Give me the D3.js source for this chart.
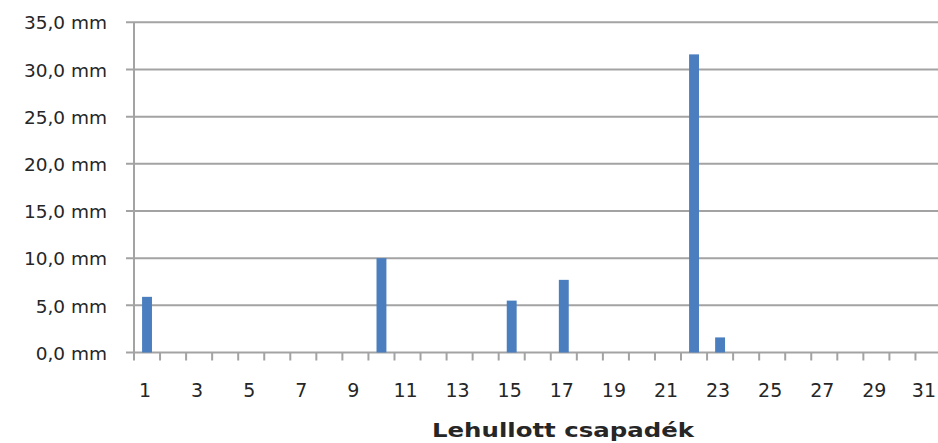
<!DOCTYPE html>
<html>
<head>
<meta charset="utf-8">
<script src="https://cdn.jsdelivr.net/npm/d3@7/dist/d3.min.js"></script>
<style>
  html, body { margin: 0; padding: 0; background: #fff; }
  svg { display: block; }
  text { font-family: "DejaVu Sans", sans-serif; fill: #262626; }
</style>
</head>
<body>
<svg id="chart" width="938" height="443"></svg>
<script>
// Daily precipitation for the month (mm)
const days = d3.range(1, 32);
const rainfall = [5.9, 0, 0, 0, 0, 0, 0, 0, 0, 10.0,
                  0, 0, 0, 0, 5.5, 0, 7.7, 0, 0, 0,
                  0, 31.6, 1.6, 0, 0, 0, 0, 0, 0, 0, 0];
const yTicks = [0, 5, 10, 15, 20, 25, 30, 35];
const xTickLabels = days.filter(d => d % 2 === 1);
const axisTitle = "Lehullott csapadék";

const width = 938;
const svg = d3.select("#chart");
const plotLeft = 134, plotRight = 941.5, plotTop = 22.3, plotBottom = 352.5;

const x = d3.scaleBand()
  .domain(days)
  .range([plotLeft, plotRight])
  .paddingInner(0.62)
  .paddingOuter(0.31);
const y = d3.scaleLinear().domain([0, 35]).range([plotBottom, plotTop]);

const locale = d3.formatLocale({ decimal: ",", thousands: " ", grouping: [3], currency: ["", ""] });
const fmt = v => locale.format(".1f")(v) + " mm";

const gridColor = "#a3a3a3";

// horizontal gridlines
svg.append("g")
  .selectAll("line")
  .data(yTicks)
  .join("line")
  .attr("x1", plotLeft - 8)
  .attr("x2", width)
  .attr("y1", d => y(d))
  .attr("y2", d => y(d))
  .attr("stroke", gridColor)
  .attr("stroke-width", 2);

// bars
svg.append("g")
  .selectAll("rect")
  .data(days.map((d, i) => ({ day: d, value: rainfall[i] })).filter(d => d.value > 0))
  .join("rect")
  .attr("x", d => x(d.day))
  .attr("width", x.bandwidth())
  .attr("y", d => y(d.value))
  .attr("height", d => y(0) - y(d.value))
  .attr("fill", "#4a7ebf");

// y axis labels
const yAxis = svg.append("g")
  .attr("transform", `translate(${plotLeft},0)`)
  .call(d3.axisLeft(y).tickValues(yTicks).tickSize(0).tickPadding(27).tickFormat(fmt));
yAxis.select(".domain").remove();
yAxis.selectAll("text")
  .attr("font-size", 18.5)
  .attr("font-family", "DejaVu Sans, sans-serif")
  .attr("fill", "#262626")
  .attr("dy", "0.36em");

svg.append("line")
  .attr("x1", plotLeft).attr("x2", plotLeft)
  .attr("y1", plotTop).attr("y2", plotBottom + 8)
  .attr("stroke", gridColor)
  .attr("stroke-width", 2);

// x axis tick marks at category boundaries
const gap = (x.step() - x.bandwidth()) / 2;
svg.append("g")
  .selectAll("line")
  .data(days.slice(1))
  .join("line")
  .attr("x1", d => x(d) - gap)
  .attr("x2", d => x(d) - gap)
  .attr("y1", plotBottom)
  .attr("y2", plotBottom + 8)
  .attr("stroke", gridColor)
  .attr("stroke-width", 2);

// x axis labels (odd days); keep the last one inside the frame
svg.append("g")
  .selectAll("text")
  .data(xTickLabels)
  .join("text")
  .attr("y", 397)
  .attr("text-anchor", "middle")
  .attr("font-size", 19)
  .text(d => d)
  .each(function (d) {
    const half = this.getComputedTextLength() / 2;
    const cx = Math.min(x(d) + x.bandwidth() / 2 - 2, width - half - 2);
    d3.select(this).attr("x", cx);
  });

// axis title
svg.append("text")
  .attr("x", 563)
  .attr("y", 437)
  .attr("text-anchor", "middle")
  .attr("font-size", 19)
  .attr("font-weight", "bold")
  .attr("textLength", 262)
  .attr("lengthAdjust", "spacingAndGlyphs")
  .text(axisTitle);
</script>
</body>
</html>
